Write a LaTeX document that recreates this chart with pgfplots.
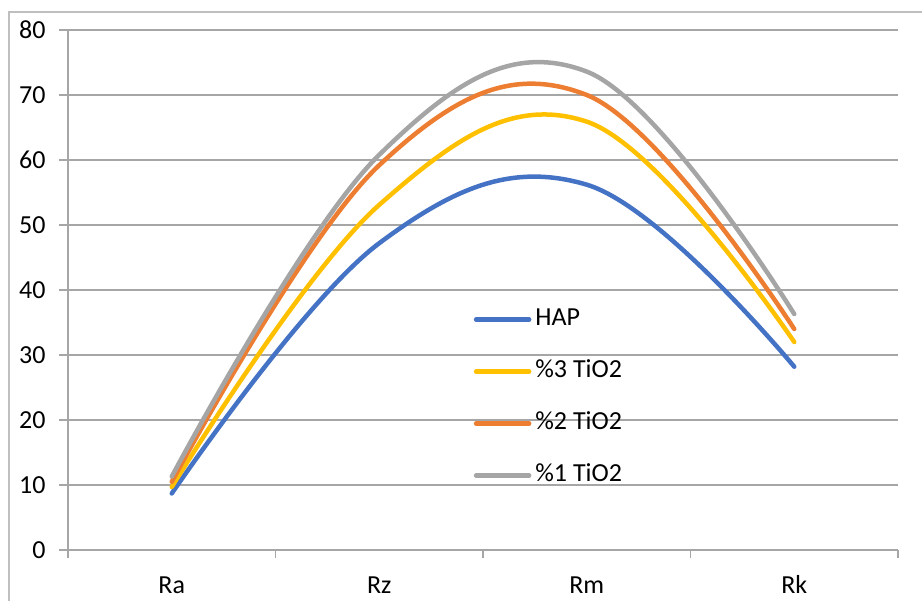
\documentclass[border=0pt]{standalone}
\usepackage{pgfplots}
\pgfplotsset{compat=1.18}
\usepackage{fontspec}
\setmainfont{Carlito}
\definecolor{cHAP}{HTML}{4472C4}
\definecolor{cThree}{HTML}{FFC000}
\definecolor{cTwo}{HTML}{ED7D31}
\definecolor{cOne}{HTML}{A5A5A5}
\definecolor{cGrid}{HTML}{A6A6A6}
\definecolor{cBorder}{HTML}{BFBFBF}
\begin{document}
\fontsize{13bp}{15bp}\selectfont
\begin{tikzpicture}
\begin{axis}[
  scale only axis,
  width=415bp, height=260bp,
  xmin=-0.5, xmax=3.5,
  ymin=0, ymax=80,
  xtick={0,1,2,3},
  xticklabels={Ra,Rz,Rm,Rk},
  minor xtick={-0.5,0.5,1.5,2.5,3.5},
  ytick={0,10,...,80},
  axis x line*=bottom,
  axis y line*=left,
  axis line style={cGrid, line width=0.75bp},
  tick align=outside,
  major tick length=4.5bp,
  minor tick length=4bp,
  major x tick style={draw=none},
  minor x tick style={cGrid, line width=0.75bp},
  major y tick style={cGrid, line width=0.75bp},
  ymajorgrids,
  grid style={cGrid, line width=0.75bp},
  /pgf/number format/assume math mode=true,
  ticklabel style={font=\fontsize{13bp}{15bp}\selectfont, inner sep=0pt},
  yticklabel style={anchor=east, xshift=-6.5bp},
  xticklabel style={anchor=base, yshift=-17bp},
  legend style={at={(0.489,0.466)}, anchor=north west, draw=none, fill=none,
    inner sep=0pt, outer sep=0pt,
    font=\fontsize{13bp}{15bp}\selectfont, row sep=14bp,
    nodes={inner sep=0pt, text height=9bp, text depth=3bp},
    column sep=2bp},
  legend cell align=left,
  legend image code/.code={\draw[#1, line width=2.25bp] (0bp,0bp) -- (26.5bp,0bp);},
  every axis plot/.append style={line width=2.25bp, smooth, tension=0.65, line cap=round, line join=round},
]
\addplot[cHAP] coordinates {(0,8.7) (1,47.2) (2,56.2) (3,28.2)};
\addlegendentry{HAP}
\addplot[cThree] coordinates {(0,9.7) (1,53.1) (2,65.9) (3,32.0)};
\addlegendentry{\%3 TiO2}
\addplot[cTwo] coordinates {(0,10.5) (1,59.2) (2,70.0) (3,34.0)};
\addlegendentry{\%2 TiO2}
\addplot[cOne] coordinates {(0,11.3) (1,60.8) (2,73.6) (3,36.3)};
\addlegendentry{\%1 TiO2}
\end{axis}
\path[use as bounding box] ([xshift=-34bp,yshift=-25.5bp]current axis.south west) rectangle ([xshift=12bp,yshift=15bp]current axis.north east);
\draw[cBorder, line width=0.75bp] ([xshift=-29.5bp,yshift=-25.5bp]current axis.south west) -- ([xshift=-29.5bp,yshift=9bp]current axis.north west) -- ([xshift=12bp,yshift=9bp]current axis.north east);
\end{tikzpicture}
\end{document}
